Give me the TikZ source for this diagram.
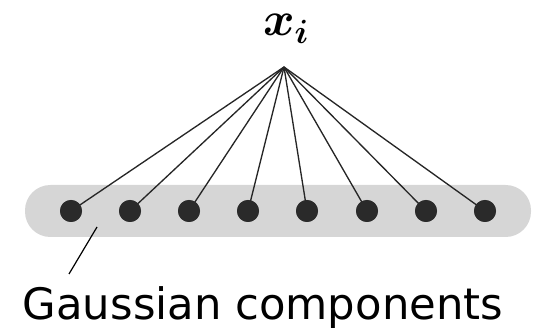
\RequirePackage{fix-cm}
\documentclass[tikz,border=0pt]{standalone}
\usepackage{fontspec}
\setmainfont{DejaVu Sans}
\usepackage{amsmath}
\usepackage{bm}
\usetikzlibrary{positioning}
\definecolor{bandgray}{HTML}{D6D6D6}
\definecolor{dotgray}{HTML}{2A2A2A}
\tikzset{
	comp/.style={circle, fill=dotgray, inner sep=0pt, minimum size=16.5pt},
	link/.style={draw=black!85, line width=1pt},
}

\begin{document}
\begin{tikzpicture}[x=0.75pt,y=-0.75pt]
		\useasboundingbox (0,0) rectangle (533,335);
		% band behind the components
		\fill[bandgray, rounded corners=19pt] (25,185) rectangle (531,237);
		\coordinate (top) at (284,67);
		\node[anchor=base, inner sep=0pt, font=\fontsize{36}{38}\selectfont] (xi) at (286,36) {$\bm{x_i}$};
		\foreach \i/\x in {1/71,2/130,3/189,4/248,5/307,6/367,7/426,8/485}{
			\node[comp] (c\i) at (\x,211) {};
			\draw[link] (top) -- (c\i.center);
		}
		\foreach \i in {1,...,8}
			\node[comp] at (c\i) {};
		\node[anchor=base, inner sep=0pt, font=\fontsize{32.5}{36}\selectfont] (gc) at (263,320) {Gaussian components};
		\coordinate (p1) at (97,227);
		\coordinate (p2) at (69,274);
		\draw[line width=0.9pt] (p1) -- (p2);
	\end{tikzpicture}
\end{document}
